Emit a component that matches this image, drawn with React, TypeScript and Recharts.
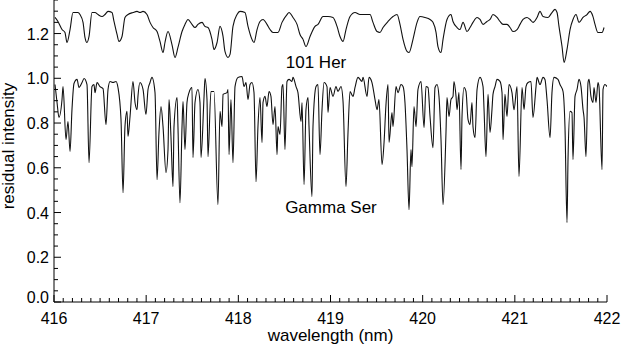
import React from 'react';
import { LineChart, Line, XAxis, YAxis, ReferenceDot } from 'recharts';

// 101 Her (upper spectrum, offset by +0.3)
const herWavelength = [
  416.011, 416.043, 416.087, 416.119, 416.141, 416.174, 416.206, 416.260, 416.282, 416.315,
  416.336, 416.358, 416.380, 416.412, 416.445, 416.477, 416.521, 416.553, 416.586, 416.629,
  416.651, 416.684, 416.705, 416.738, 416.770, 416.803, 416.857, 416.901, 416.933, 416.966,
  417.009, 417.042, 417.074, 417.118, 417.150, 417.183, 417.204, 417.237, 417.280, 417.313,
  417.345, 417.389, 417.421, 417.454, 417.497, 417.530, 417.562, 417.606, 417.638, 417.671,
  417.714, 417.736, 417.769, 417.801, 417.834, 417.855, 417.888, 417.910, 417.942, 417.986,
  418.018, 418.072, 418.105, 418.148, 418.170, 418.203, 418.235, 418.268, 418.311, 418.344,
  418.376, 418.430, 418.474, 418.528, 418.550, 418.593, 418.637, 418.669, 418.702, 418.734,
  418.778, 418.832, 418.864, 418.919, 418.973, 419.027, 419.071, 419.103, 419.136, 419.168,
  419.212, 419.266, 419.320, 419.374, 419.429, 419.461, 419.505, 419.537, 419.570, 419.624,
  419.678, 419.722, 419.754, 419.787, 419.830, 419.852, 419.895, 419.939, 419.971, 420.025,
  420.080, 420.112, 420.145, 420.166, 420.199, 420.221, 420.264, 420.307, 420.329, 420.373,
  420.405, 420.438, 420.481, 420.514, 420.546, 420.590, 420.622, 420.655, 420.698, 420.731,
  420.763, 420.807, 420.839, 420.872, 420.915, 420.948, 420.980, 421.024, 421.056, 421.089,
  421.132, 421.165, 421.197, 421.241, 421.273, 421.306, 421.360, 421.403, 421.436, 421.458,
  421.479, 421.512, 421.534, 421.566, 421.599, 421.631, 421.664, 421.696, 421.740, 421.783,
  421.816, 421.848, 421.870, 421.902, 421.946, 421.968,
];
const herIntensity = [
  1.272, 1.254, 1.218, 1.205, 1.160, 1.218, 1.294, 1.294, 1.285, 1.250,
  1.183, 1.160, 1.187, 1.294, 1.294, 1.285, 1.276, 1.285, 1.299, 1.294,
  1.254, 1.196, 1.165, 1.187, 1.272, 1.285, 1.294, 1.299, 1.294, 1.299,
  1.285, 1.250, 1.227, 1.209, 1.165, 1.115, 1.160, 1.209, 1.151, 1.093,
  1.138, 1.209, 1.241, 1.263, 1.241, 1.227, 1.241, 1.250, 1.232, 1.227,
  1.174, 1.129, 1.160, 1.232, 1.187, 1.120, 1.093, 1.107, 1.232, 1.285,
  1.299, 1.294, 1.232, 1.174, 1.160, 1.218, 1.254, 1.263, 1.241, 1.218,
  1.205, 1.205, 1.250, 1.285, 1.294, 1.272, 1.241, 1.196, 1.174, 1.142,
  1.187, 1.232, 1.241, 1.276, 1.276, 1.272, 1.232, 1.187, 1.165, 1.218,
  1.276, 1.294, 1.285, 1.285, 1.285, 1.250, 1.209, 1.205, 1.227, 1.254,
  1.276, 1.285, 1.241, 1.174, 1.120, 1.115, 1.174, 1.250, 1.276, 1.272,
  1.263, 1.250, 1.205, 1.142, 1.115, 1.174, 1.263, 1.285, 1.254, 1.227,
  1.218, 1.250, 1.209, 1.227, 1.250, 1.272, 1.263, 1.241, 1.254, 1.263,
  1.285, 1.272, 1.254, 1.241, 1.241, 1.227, 1.209, 1.218, 1.241, 1.263,
  1.272, 1.263, 1.250, 1.272, 1.299, 1.276, 1.272, 1.294, 1.308, 1.294,
  1.232, 1.142, 1.071, 1.129, 1.218, 1.263, 1.285, 1.250, 1.272, 1.285,
  1.299, 1.276, 1.241, 1.205, 1.205, 1.227,
];

// Gamma Ser (lower spectrum)
const serWavelength = [
  416.011, 416.033, 416.054, 416.087, 416.098, 416.130, 416.152, 416.174, 416.195, 416.217,
  416.250, 416.271, 416.304, 416.326, 416.358, 416.380, 416.412, 416.434, 416.445, 416.467,
  416.499, 416.532, 416.564, 416.586, 416.608, 416.640, 416.673, 416.694, 416.727, 416.749,
  416.770, 416.792, 416.803, 416.825, 416.857, 416.879, 416.901, 416.911, 416.933, 416.966,
  416.998, 417.020, 417.042, 417.063, 417.096, 417.118, 417.139, 417.161, 417.183, 417.215,
  417.237, 417.248, 417.269, 417.291, 417.302, 417.335, 417.345, 417.367, 417.389, 417.400,
  417.421, 417.443, 417.465, 417.497, 417.508, 417.530, 417.562, 417.584, 417.595, 417.628,
  417.638, 417.660, 417.671, 417.703, 417.736, 417.779, 417.801, 417.823, 417.834, 417.877,
  417.888, 417.899, 417.920, 417.942, 417.964, 417.996, 418.040, 418.062, 418.083, 418.105,
  418.127, 418.148, 418.170, 418.192, 418.213, 418.235, 418.257, 418.268, 418.289, 418.311,
  418.333, 418.354, 418.376, 418.398, 418.420, 418.430, 418.452, 418.474, 418.485, 418.506,
  418.528, 418.550, 418.582, 418.593, 418.626, 418.647, 418.680, 418.691, 418.713, 418.734,
  418.756, 418.767, 418.799, 418.810, 418.843, 418.864, 418.886, 418.908, 418.930, 418.962,
  418.973, 418.995, 419.027, 419.060, 419.081, 419.114, 419.136, 419.168, 419.190, 419.212,
  419.244, 419.266, 419.298, 419.342, 419.353, 419.396, 419.418, 419.450, 419.483, 419.505,
  419.526, 419.559, 419.581, 419.602, 419.624, 419.635, 419.667, 419.678, 419.711, 419.732,
  419.765, 419.787, 419.808, 419.830, 419.852, 419.873, 419.884, 419.906, 419.928, 419.949,
  419.982, 420.015, 420.036, 420.058, 420.080, 420.112, 420.134, 420.156, 420.177, 420.199,
  420.221, 420.253, 420.264, 420.286, 420.307, 420.329, 420.340, 420.362, 420.373, 420.394,
  420.416, 420.427, 420.449, 420.470, 420.492, 420.514, 420.535, 420.546, 420.568, 420.590,
  420.622, 420.655, 420.666, 420.687, 420.709, 420.731, 420.752, 420.763, 420.785, 420.807,
  420.839, 420.861, 420.872, 420.893, 420.915, 420.937, 420.969, 420.991, 421.024, 421.045,
  421.078, 421.100, 421.121, 421.143, 421.175, 421.197, 421.230, 421.241, 421.273, 421.306,
  421.327, 421.349, 421.382, 421.403, 421.425, 421.468, 421.490, 421.523, 421.544, 421.566,
  421.577, 421.599, 421.620, 421.631, 421.653, 421.675, 421.696, 421.718, 421.740, 421.751,
  421.772, 421.794, 421.805, 421.826, 421.848, 421.859, 421.881, 421.902, 421.913, 421.946,
  421.957, 421.978, 422.000,
];
const serIntensity = [
  0.972, 0.892, 0.825, 0.905, 0.963, 0.726, 0.807, 0.673, 0.860, 0.977,
  0.995, 0.959, 0.981, 0.999, 0.972, 0.623, 0.963, 0.972, 0.936, 0.981,
  0.963, 0.954, 0.793, 0.950, 0.986, 0.981, 0.986, 0.959, 0.816, 0.489,
  0.784, 0.852, 0.740, 0.829, 0.986, 0.892, 0.860, 0.919, 0.981, 0.950,
  0.838, 0.950, 0.981, 1.004, 0.936, 0.547, 0.758, 0.874, 0.784, 0.579,
  0.682, 0.905, 0.740, 0.516, 0.784, 0.914, 0.784, 0.444, 0.784, 0.896,
  0.682, 0.892, 0.936, 0.959, 0.646, 0.892, 0.950, 0.892, 0.646, 0.919,
  0.999, 0.905, 0.650, 0.941, 0.941, 0.435, 0.852, 0.784, 0.928, 0.936,
  0.950, 0.659, 0.905, 0.623, 0.963, 1.004, 1.008, 0.963, 0.981, 0.905,
  0.972, 0.981, 0.936, 0.538, 0.784, 0.914, 0.713, 0.892, 0.919, 0.874,
  0.941, 0.919, 0.793, 0.874, 0.659, 0.784, 0.749, 0.963, 0.972, 0.682,
  0.986, 0.995, 0.986, 1.004, 0.963, 0.936, 0.807, 0.892, 0.525, 0.860,
  0.914, 0.784, 0.471, 0.784, 0.963, 0.972, 0.659, 0.860, 0.981, 0.963,
  0.847, 0.959, 0.919, 0.963, 0.941, 0.963, 0.896, 0.516, 0.758, 0.941,
  0.919, 0.959, 1.004, 0.986, 1.004, 0.919, 1.004, 0.981, 0.905, 0.860,
  0.905, 0.614, 0.713, 0.883, 0.972, 0.713, 0.847, 0.784, 0.963, 0.936,
  0.972, 0.963, 0.892, 0.682, 0.413, 0.682, 0.605, 0.874, 0.784, 0.950,
  0.986, 0.780, 0.963, 0.959, 0.829, 0.690, 0.959, 0.972, 0.919, 0.726,
  0.435, 0.758, 0.914, 0.829, 0.905, 0.919, 0.986, 0.919, 0.860, 0.936,
  0.592, 0.829, 0.959, 0.941, 0.816, 0.793, 0.892, 0.784, 0.735, 0.950,
  1.004, 0.963, 0.860, 0.650, 0.928, 0.758, 0.860, 0.928, 0.963, 0.995,
  0.986, 0.936, 0.726, 0.928, 0.829, 0.972, 0.936, 0.860, 0.963, 0.561,
  0.959, 0.860, 0.963, 0.981, 0.986, 0.825, 0.963, 1.004, 0.972, 1.004,
  0.995, 0.905, 0.735, 0.936, 1.004, 0.995, 0.972, 0.941, 0.784, 0.355,
  0.637, 0.852, 0.847, 0.637, 0.919, 0.950, 0.995, 0.963, 0.860, 0.825,
  0.650, 0.981, 0.995, 0.919, 0.892, 0.959, 0.892, 0.981, 0.963, 0.592,
  0.950, 0.972, 0.963,
];

const xMajorTicks = [416, 417, 418, 419, 420, 421, 422];
const yMajorTicks = [0.0, 0.2, 0.4, 0.6, 0.8, 1.0, 1.2];
const xLabel = 'wavelength (nm)';
const yLabel = 'residual intensity';
const herName = '101 Her';
const serName = 'Gamma Ser';
const herLabelPos = { x: 418.843, y: 1.071 };
const serLabelPos = { x: 419.005, y: 0.426 };

const xTicks: number[] = [];
for (let i = 0; i <= 60; i++) xTicks.push(Math.round((416 + i * 0.1) * 10) / 10);
const yTicks: number[] = [];
for (let i = 0; i <= 27; i++) yTicks.push(Math.round(i * 5) / 100);

const herData = herWavelength.map((w, i) => ({ w, v: herIntensity[i] }));
const serData = serWavelength.map((w, i) => ({ w, v: serIntensity[i] }));

const FONT = '"Liberation Sans", Arial, Helvetica, sans-serif';
const isXMajor = (v: number) => xMajorTicks.some((m) => Math.abs(m - v) < 1e-6);
const isYMajor = (v: number) => yMajorTicks.some((m) => Math.abs(m - v) < 1e-6);

const BottomTick = (p: any) => {
  const { x, y, payload } = p;
  const v = payload.value;
  const major = isXMajor(v);
  return (
    <g>
      <line x1={x} x2={x} y1={y} y2={y - (major ? 7 : 4)} stroke="#000" strokeWidth={1} />
      {major && (
        <text x={x} y={y + 22} textAnchor="middle" fontSize={16} fontFamily={FONT} fill="#000">
          {String(v)}
        </text>
      )}
    </g>
  );
};
const TopTick = (p: any) => {
  const { x, y, payload } = p;
  const major = isXMajor(payload.value);
  return <line x1={x} x2={x} y1={y} y2={y + (major ? 7 : 4)} stroke="#000" strokeWidth={1} />;
};
const LeftTick = (p: any) => {
  const { x, y, payload } = p;
  const v = payload.value;
  const major = isYMajor(v);
  return (
    <g>
      <line x1={x} x2={x + (major ? 7 : 4)} y1={y} y2={y} stroke="#000" strokeWidth={1} />
      {major && (
        <text x={x - 5} y={y + (v === 0 ? 1 : 6)} textAnchor="end" fontSize={16} fontFamily={FONT} fill="#000">
          {v.toFixed(1)}
        </text>
      )}
    </g>
  );
};
const RightTick = (p: any) => {
  const { x, y, payload } = p;
  const major = isYMajor(payload.value);
  return <line x1={x} x2={x - (major ? 7 : 4)} y1={y} y2={y} stroke="#000" strokeWidth={1} />;
};

const TextMark = (text: string) => (p: any) => (
  <text x={p.cx} y={p.cy + 6} textAnchor="middle" fontSize={17} fontFamily={FONT} fill="#000">
    {text}
  </text>
);

export default function App() {
  return (
    <div style={{ position: 'absolute', left: 0, top: 0, width: 621, height: 347, background: '#fff' }}>
      <LineChart width={621} height={347} margin={{ top: 0, right: 14, bottom: 0, left: 0 }}>
        <XAxis
          xAxisId="bottom"
          dataKey="w"
          type="number"
          domain={[416, 422]}
          allowDataOverflow
          ticks={xTicks}
          interval={0}
          tickSize={0}
          tickMargin={0}
          tickLine={false}
          tick={(p: any) => <BottomTick {...p} />}
          axisLine={{ stroke: '#000' }}
          height={45}
          label={(p: any) => {
            const vb = p.viewBox;
            return (
              <text x={vb.x + vb.width / 2} y={vb.y + 39} textAnchor="middle" fontSize={17} fontFamily={FONT} fill="#000">
                {xLabel}
              </text>
            );
          }}
        />
        <XAxis
          xAxisId="top"
          orientation="top"
          dataKey="w"
          type="number"
          domain={[416, 422]}
          allowDataOverflow
          ticks={xTicks}
          interval={0}
          tickSize={0}
          tickMargin={0}
          tickLine={false}
          tick={(p: any) => <TopTick {...p} />}
          axisLine={{ stroke: '#000' }}
          height={0}
        />
        <YAxis
          yAxisId="left"
          type="number"
          domain={[0, 1.35]}
          allowDataOverflow
          ticks={yTicks}
          interval={0}
          tickSize={0}
          tickMargin={0}
          tickLine={false}
          tick={(p: any) => <LeftTick {...p} />}
          axisLine={{ stroke: '#000' }}
          width={54}
          label={(p: any) => {
            const vb = p.viewBox;
            const cx = 14;
            const cy = vb.y + 146;
            return (
              <text x={cx} y={cy} transform={`rotate(-90, ${cx}, ${cy})`} textAnchor="middle" fontSize={17} fontFamily={FONT} fill="#000">
                {yLabel}
              </text>
            );
          }}
        />
        <YAxis
          yAxisId="right"
          orientation="right"
          type="number"
          domain={[0, 1.35]}
          allowDataOverflow
          ticks={yTicks}
          interval={0}
          tickSize={0}
          tickMargin={0}
          tickLine={false}
          tick={(p: any) => <RightTick {...p} />}
          axisLine={{ stroke: '#000' }}
          width={0}
        />
        <Line
          xAxisId="bottom"
          yAxisId="left"
          data={herData}
          dataKey="v"
          type="monotone"
          stroke="#111"
          strokeWidth={1.1}
          dot={false}
          isAnimationActive={false}
        />
        <Line
          xAxisId="bottom"
          yAxisId="left"
          data={serData}
          dataKey="v"
          type="monotone"
          stroke="#111"
          strokeWidth={1.1}
          dot={false}
          isAnimationActive={false}
        />
        <ReferenceDot xAxisId="bottom" yAxisId="left" x={herLabelPos.x} y={herLabelPos.y} r={1} shape={TextMark(herName)} />
        <ReferenceDot xAxisId="bottom" yAxisId="left" x={serLabelPos.x} y={serLabelPos.y} r={1} shape={TextMark(serName)} />
      </LineChart>
    </div>
  );
}
